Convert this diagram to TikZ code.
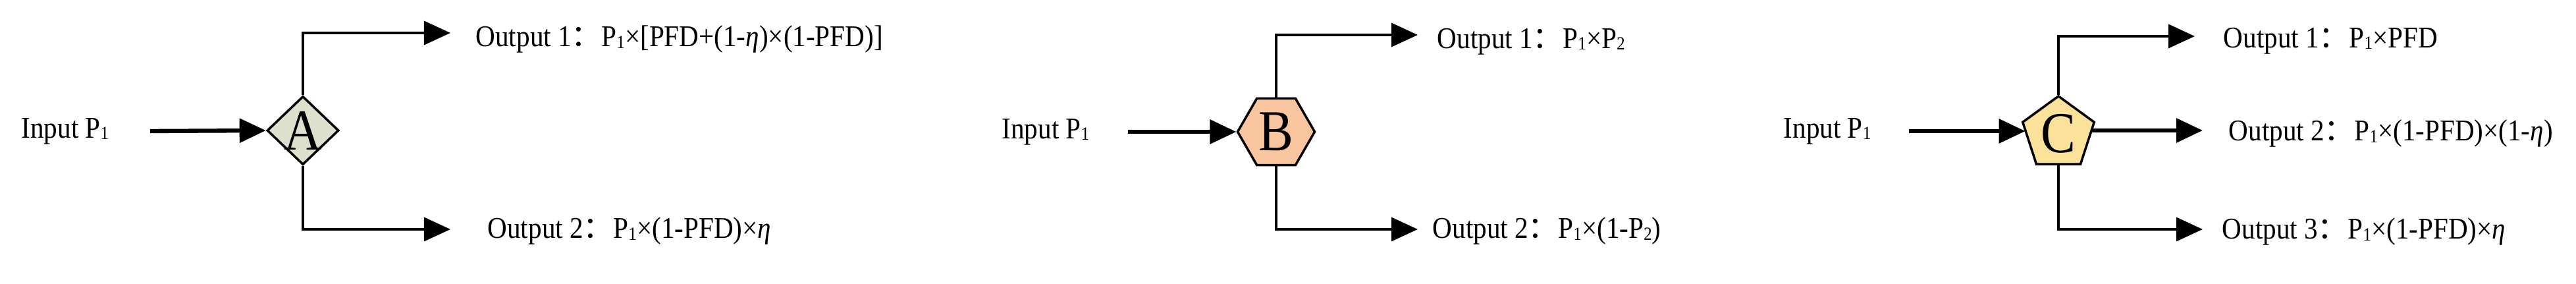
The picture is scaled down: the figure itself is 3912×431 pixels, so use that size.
\documentclass[tikz,border=0pt]{standalone}
\usepackage{fontspec}
\setmainfont[FakeStretch=0.9]{Liberation Serif}
\newfontfamily\cjk{Noto Sans CJK SC}
\usetikzlibrary{shapes.geometric,arrows.meta}
\newcommand{\Pone}{P\raisebox{-0.1ex}{\footnotesize 1}}
\newcommand{\Ptwo}{P\raisebox{-0.1ex}{\footnotesize 2}}
\newcommand{\cc}{{\cjk ：}}
\begin{document}
\begin{tikzpicture}[x=0.01cm,y=-0.01cm,
  txt/.style={anchor=west,inner sep=0pt,font=\fontsize{13}{15}\selectfont},
  big/.style={font=\fontsize{25}{28}\selectfont},
  shp/.style={draw,line width=1pt,inner sep=0pt},
  con/.style={line width=1pt,-{Triangle[length=0.4cm,width=0.36cm]}},
  inarr/.style={line width=1.8pt,-{Triangle[length=0.4cm,width=0.36cm]}}]
\useasboundingbox (0,0) rectangle (3912,431);
% ---- A
\node[txt] (iA) at (32,199) {Input \Pone};
\coordinate (sA) at (228,199);
\node[shp,diamond,fill={rgb,255:red,221;green,224;blue,204},minimum width=1.09cm,minimum height=1.04cm,label={[big]center:A}] (A) at (460,198) {};
\draw[inarr] (sA) -- (A.west);
\node[txt] (oA1) at (722,60) {Output 1\cc\Pone×[PFD+(1-\textit{η})×(1-PFD)]};
\node[txt] (oA2) at (740,351) {Output 2\cc\Pone×(1-PFD)×\textit{η}};
\coordinate (eA1) at (684,50);
\coordinate (eA2) at (684,348);
\draw[con] (A.north) |- (eA1);
\draw[con] (A.south) |- (eA2);
% ---- B
\node[txt] (iB) at (1521,200) {Input \Pone};
\coordinate (sB) at (1713,200);
\node[shp,regular polygon,regular polygon sides=6,minimum size=1.17cm,fill={rgb,255:red,248;green,197;blue,159},label={[big]center:B}] (B) at (1938,200) {};
\draw[inarr] (sB) -- (B.west);
\node[txt] (oB1) at (2182,63) {Output 1\cc\Pone×\Ptwo};
\node[txt] (oB2) at (2175,351) {Output 2\cc\Pone×(1-\Ptwo)};
\coordinate (eB1) at (2153,53);
\coordinate (eB2) at (2153,348);
\draw[con] (B.north) |- (eB1);
\draw[con] (B.south) |- (eB2);
% ---- C
\node[txt] (iC) at (2708,199) {Input \Pone};
\coordinate (sC) at (2899,199);
\node[shp,regular polygon,regular polygon sides=5,minimum size=1.14cm,fill={rgb,255:red,251;green,226;blue,155},label={[big]center:C}] (C) at (3126,203) {};
\draw[inarr] (sC) -- (C.west |- sC);
\node[txt] (oC1) at (3376,62) {Output 1\cc\Pone×PFD};
\node[txt] (oC2) at (3384,203) {Output 2\cc\Pone×(1-PFD)×(1-\textit{η})};
\node[txt] (oC3) at (3374,352) {Output 3\cc\Pone×(1-PFD)×\textit{η}};
\coordinate (eC1) at (3333,55);
\coordinate (eC2) at (3345,198);
\coordinate (eC3) at (3345,348);
\draw[con] (C.corner 1) |- (eC1);
\draw[inarr] (C.east |- eC2) -- (eC2);
\draw[con] (C.south) |- (eC3);
\end{tikzpicture}
\end{document}
